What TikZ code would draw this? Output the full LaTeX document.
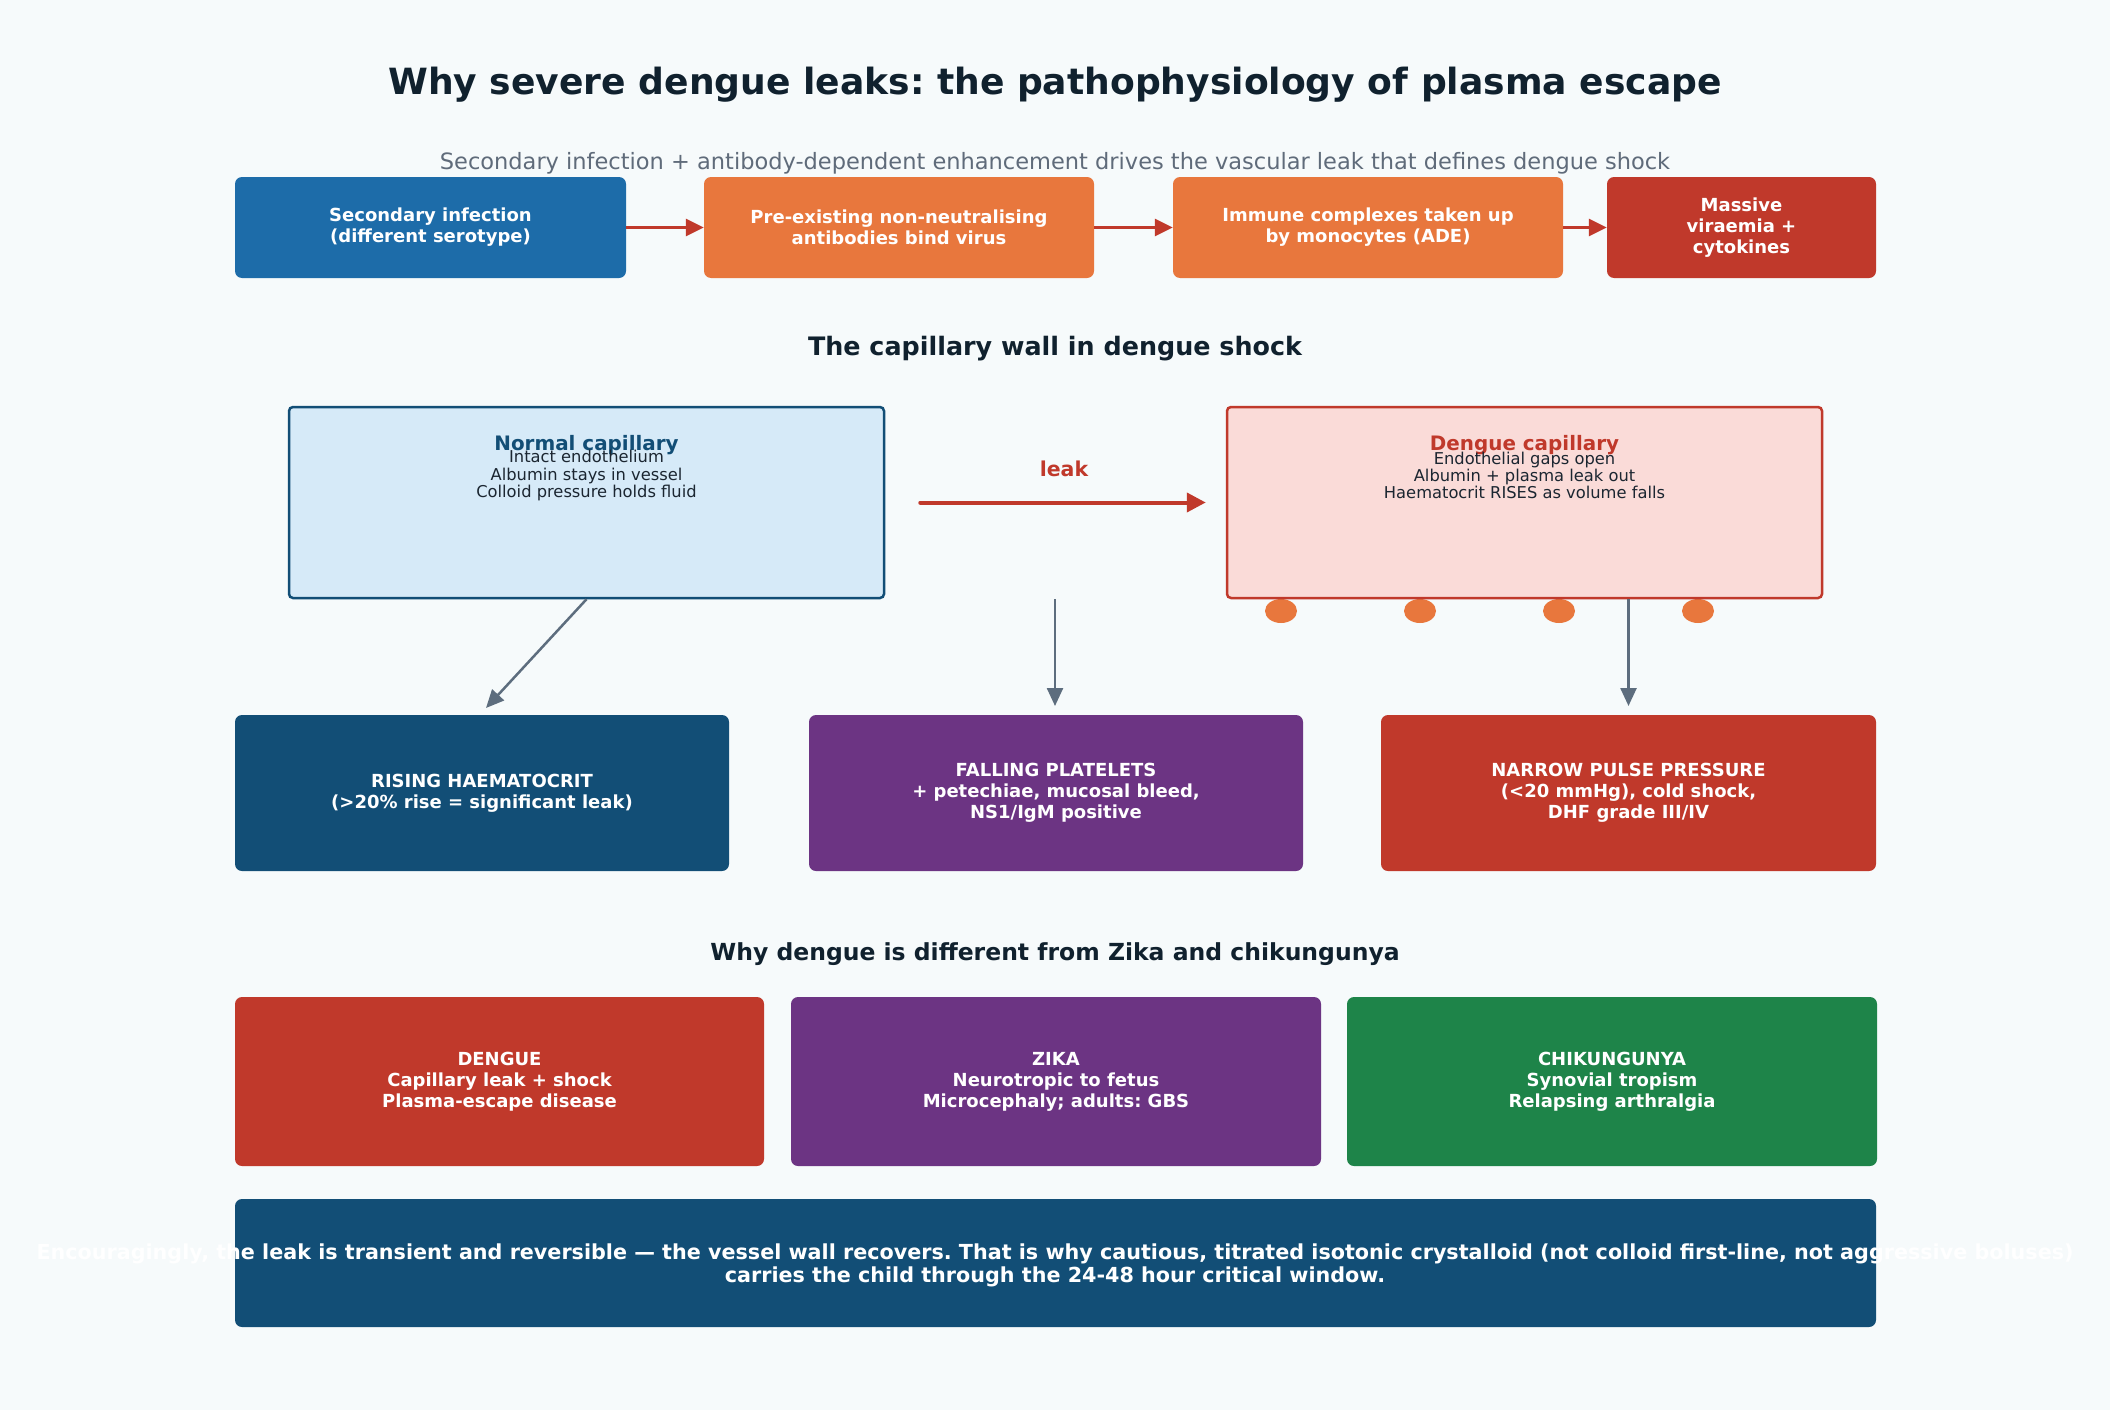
\documentclass[tikz,border=0pt]{standalone}
\usepackage{fontspec}
\setmainfont{DejaVu Sans}
\usetikzlibrary{arrows.meta,calc,shapes.geometric}
\definecolor{cBg}{HTML}{F6FAFB}
\definecolor{cDark}{HTML}{10212E}
\definecolor{cSub}{HTML}{5F6B7A}
\definecolor{cBlue}{HTML}{1D6CA9}
\definecolor{cOrange}{HTML}{E8773D}
\definecolor{cRed}{HTML}{C0392B}
\definecolor{cNavy}{HTML}{124E76}
\definecolor{cPurple}{HTML}{6C3483}
\definecolor{cGreen}{HTML}{1E8449}
\definecolor{cGray}{HTML}{5D6D7E}
\definecolor{cLightBlue}{HTML}{D6EAF8}
\definecolor{cLightRed}{HTML}{FADBD8}
\definecolor{cBody}{HTML}{1B2631}
\newcommand\myfs[2]{\fontsize{#1}{#2}\selectfont}
\frenchspacing
\begin{document}
\begin{tikzpicture}[x=1pt,y=-1pt,
  fbox/.style={rectangle, rounded corners=7pt, inner sep=0pt, align=center, text=white, font=\myfs{18}{20.9}\bfseries},
  capbox/.style={rectangle, rounded corners=4pt, line width=2.5pt, inner sep=0pt},
  flowarrow/.style={draw=cRed, line width=3pt, -{Triangle[length=18pt,width=17pt]}},
  downarrow/.style={draw=cGray, line width=2.5pt, -{Triangle[length=18pt,width=16pt]}},
  dotshape/.style={ellipse, fill=cOrange, minimum width=32pt, minimum height=24pt, inner sep=0pt},
  captitle/.style={font=\myfs{19.9}{22}\bfseries},
  capbody/.style={font=\myfs{16.3}{17.3}, text=cBody, align=center},
]
\fill[cBg] (0,0) rectangle (2110,1410);
\useasboundingbox (0,0) rectangle (2110,1410);

% title and subtitle
\node[font=\myfs{36.1}{40}\bfseries, text=cDark] (title) at (1055,85) {Why severe dengue leaks: the pathophysiology of plasma escape};
\node[font=\myfs{22.5}{27}, text=cSub] (subtitle) at (1055,163) {Secondary infection + antibody-dependent enhancement drives the vascular leak that defines dengue shock};

% top flow
\node[fbox, fill=cBlue, minimum width=391pt, minimum height=101pt] (b1) at (430.5,227.5) {Secondary infection\\(different serotype)};
\node[fbox, fill=cOrange, minimum width=390pt, minimum height=101pt] (b2) at (899,227.5) {Pre-existing non-neutralising\\antibodies bind virus};
\node[fbox, fill=cOrange, minimum width=390pt, minimum height=101pt] (b3) at (1368,227.5) {Immune complexes taken up\\by monocytes (ADE)};
\node[fbox, fill=cRed, minimum width=269pt, minimum height=101pt] (b4) at (1741.5,227.5) {Massive\\viraemia +\\cytokines};
\draw[flowarrow] (b1.east) -- (b2.west);
\draw[flowarrow] (b2.east) -- (b3.west);
\draw[flowarrow] (b3.east) -- (b4.west);

% capillary section
\node[font=\myfs{25.4}{29}\bfseries, text=cDark] (h1) at (1055,349) {The capillary wall in dengue shock};

\node[dotshape] (d1) at (1281,611) {};
\node[dotshape] (d2) at (1420,611) {};
\node[dotshape] (d3) at (1559,611) {};
\node[dotshape] (d4) at (1698,611) {};

\node[capbox, draw=cNavy, fill=cLightBlue, minimum width=595pt, minimum height=191pt] (normal) at (586.5,502.5) {};
\node[capbox, draw=cRed, fill=cLightRed, minimum width=595pt, minimum height=191pt] (dengue) at (1524.5,502.5) {};

\node[captitle, text=cNavy, anchor=base] (ntitle) at (586.5,450) {Normal capillary};
\node[capbody] (nbody) at (586.5,475.5) {Intact endothelium\\Albumin stays in vessel\\Colloid pressure holds fluid};
\node[captitle, text=cRed, anchor=base] (dtitle) at (1524.5,450) {Dengue capillary};
\node[capbody] (dbody) at (1524.5,475.5) {Endothelial gaps open\\Albumin + plasma leak out\\Haematocrit RISES as volume falls};

\draw[draw=cRed, line width=4pt, line cap=round, -{Triangle[length=19pt,width=19pt]}, shorten <=35pt, shorten >=20pt] (normal) -- (dengue);
\node[font=\myfs{20.5}{24}\bfseries, text=cRed] (leaklbl) at (1064,469) {leak};

% outcomes
\node[fbox, fill=cNavy, minimum width=494pt, minimum height=156pt] (hct) at (482,793) {RISING HAEMATOCRIT\\(>20\% rise = significant leak)};
\node[fbox, fill=cPurple, minimum width=494pt, minimum height=156pt] (plt) at (1056,793) {FALLING PLATELETS\\+ petechiae, mucosal bleed,\\NS1/IgM positive};
\node[fbox, fill=cRed, minimum width=495pt, minimum height=156pt] (pp) at (1628.5,793) {NARROW PULSE PRESSURE\\(<20 mmHg), cold shock,\\DHF grade III/IV};

\coordinate (a1) at (486,708);
\coordinate (m1) at (1055,599);
\coordinate (m2) at (1055,706);
\coordinate (r1) at (1628.5,599);
\coordinate (r2) at (1628.5,706);
\draw[downarrow] (normal.south) -- (a1);
\draw[downarrow] (m1) -- (m2);
\draw[downarrow] (r1) -- (r2);

% comparison
\node[font=\myfs{23.5}{27}\bfseries, text=cDark] (h2) at (1055,954.5) {Why dengue is different from Zika and chikungunya};
\node[fbox, fill=cRed, minimum width=529pt, minimum height=169pt] (cden) at (499.5,1081.5) {DENGUE\\Capillary leak + shock\\Plasma-escape disease};
\node[fbox, fill=cPurple, minimum width=530pt, minimum height=169pt] (czik) at (1056,1081.5) {ZIKA\\Neurotropic to fetus\\Microcephaly; adults: GBS};
\node[fbox, fill=cGreen, minimum width=530pt, minimum height=169pt] (cchk) at (1612,1081.5) {CHIKUNGUNYA\\Synovial tropism\\Relapsing arthralgia};

% bottom note
\node[rectangle, rounded corners=7pt, fill=cNavy, minimum width=1641pt, minimum height=128pt, inner sep=0pt] (nbox) at (1055.5,1263) {};
\node[text=white, align=center, font=\myfs{20.7}{22.8}\bfseries] (note) at (1055,1265) {Encouragingly, the leak is transient and reversible — the vessel wall recovers. That is why cautious, titrated isotonic crystalloid (not colloid first-line, not aggressive boluses)\\carries the child through the 24-48 hour critical window.};
\end{tikzpicture}
\end{document}
